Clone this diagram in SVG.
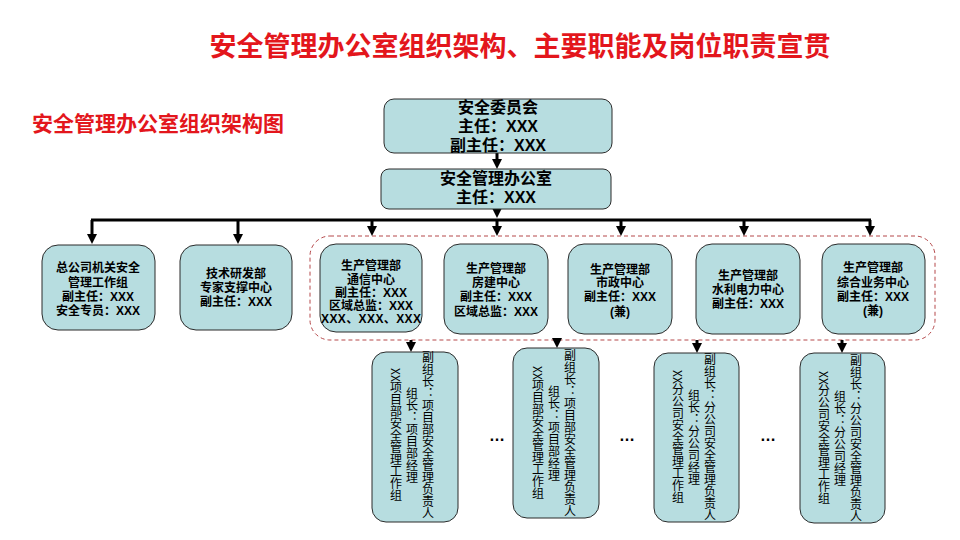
<svg xmlns="http://www.w3.org/2000/svg" width="960" height="540" viewBox="0 0 960 540">
<defs>
<style>
.box{fill:#b7dde0;stroke:#2b2b2b;stroke-width:1}
.t{font-family:"Liberation Sans","Noto Sans CJK SC",sans-serif;font-weight:bold;fill:#000;text-anchor:middle}
.t16{font-size:16px}
.t12{font-size:12px}
.v{font-family:"Noto Sans CJK SC","Liberation Sans",sans-serif;font-size:12px;fill:#000;text-anchor:middle;writing-mode:vertical-rl}
.red{font-family:"Liberation Sans","Noto Sans CJK SC",sans-serif;font-weight:bold;fill:#e3161c}
.c{stroke:#000;stroke-width:3;fill:none}
</style>
<marker id="ah" viewBox="0 0 10 10" refX="5" refY="5" markerWidth="10" markerHeight="10" markerUnits="userSpaceOnUse" orient="auto">
<path d="M0,0 L10,5 L0,10 z" fill="#000"/>
</marker>
</defs>
<rect width="960" height="540" fill="#fff"/>
<text class="red" x="520" y="56" font-size="27" text-anchor="middle">安全管理办公室组织架构、主要职能及岗位职责宣贯</text>
<text class="red" x="32" y="131" font-size="21">安全管理办公室组织架构图</text>

<rect x="310" y="236" width="625" height="104" rx="20" fill="none" stroke="#b5484a" stroke-width="1" stroke-dasharray="4,3"/>

<g id="connectors">
<line class="c" x1="497" y1="153" x2="497" y2="164" marker-end="url(#ah)"/>
<line class="c" x1="497" y1="209" x2="497" y2="213" marker-end="url(#ah)"/>
<line class="c" x1="91" y1="220" x2="871" y2="220"/>
<line class="c" x1="92" y1="220" x2="92" y2="239" marker-end="url(#ah)"/>
<line class="c" x1="238" y1="220" x2="238" y2="239" marker-end="url(#ah)"/>
<line class="c" x1="372" y1="220" x2="372" y2="231" marker-end="url(#ah)"/>
<line class="c" x1="497" y1="220" x2="497" y2="231" marker-end="url(#ah)"/>
<line class="c" x1="621" y1="220" x2="621" y2="231" marker-end="url(#ah)"/>
<line class="c" x1="744" y1="220" x2="744" y2="231" marker-end="url(#ah)"/>
<line class="c" x1="870" y1="220" x2="870" y2="231" marker-end="url(#ah)"/>
<line class="c" x1="411" y1="340" x2="411" y2="347" marker-end="url(#ah)"/>
<line class="c" x1="557" y1="340" x2="557" y2="343" marker-end="url(#ah)"/>
<line class="c" x1="697" y1="340" x2="697" y2="348" marker-end="url(#ah)"/>
<line class="c" x1="842" y1="340" x2="842" y2="348" marker-end="url(#ah)"/>
</g>

<g id="committee">
<rect class="box" x="384" y="99" width="228" height="54" rx="10"/>
<text class="t t16" x="498" y="113">安全委员会</text>
<text class="t t16" x="498" y="132">主任：XXX</text>
<text class="t t16" x="498" y="151">副主任：XXX</text>
</g>
<g id="office">
<rect class="box" x="381" y="169" width="230" height="40" rx="8"/>
<text class="t t16" x="496" y="184">安全管理办公室</text>
<text class="t t16" x="496" y="203">主任：XXX</text>
</g>

<g id="hq">
<rect class="box" x="42" y="245" width="113" height="85" rx="16"/>
<text class="t t12" x="98" y="272">总公司机关安全</text>
<text class="t t12" x="98" y="287">管理工作组</text>
<text class="t t12" x="98" y="301">副主任：XXX</text>
<text class="t t12" x="98" y="315">安全专员：XXX</text>
</g>
<g id="tech">
<rect class="box" x="180" y="245" width="112" height="85" rx="16"/>
<text class="t t12" x="236" y="278">技术研发部</text>
<text class="t t12" x="236" y="292">专家支撑中心</text>
<text class="t t12" x="236" y="306">副主任：XXX</text>
</g>
<g id="comm">
<rect class="box" x="320" y="244" width="102" height="88" rx="16"/>
<text class="t t12" x="371" y="270">生产管理部</text>
<text class="t t12" x="371" y="284">通信中心</text>
<text class="t t12" x="371" y="297">副主任：XXX</text>
<text class="t t12" x="371" y="310">区域总监：XXX</text>
<text class="t t12" x="371" y="323" textLength="100">XXX、XXX、XXX</text>
</g>
<g id="building">
<rect class="box" x="444" y="244" width="104" height="90" rx="16"/>
<text class="t t12" x="496" y="273">生产管理部</text>
<text class="t t12" x="496" y="287">房建中心</text>
<text class="t t12" x="496" y="301">副主任：XXX</text>
<text class="t t12" x="496" y="316">区域总监：XXX</text>
</g>
<g id="municipal">
<rect class="box" x="568" y="244" width="104" height="90" rx="16"/>
<text class="t t12" x="620" y="274">生产管理部</text>
<text class="t t12" x="620" y="287">市政中心</text>
<text class="t t12" x="620" y="301">副主任：XXX</text>
<text class="t t12" x="620" y="316">(兼)</text>
</g>
<g id="water">
<rect class="box" x="696" y="244" width="104" height="90" rx="16"/>
<text class="t t12" x="748" y="280">生产管理部</text>
<text class="t t12" x="748" y="294">水利电力中心</text>
<text class="t t12" x="748" y="308">副主任：XXX</text>
</g>
<g id="general">
<rect class="box" x="822" y="244" width="103" height="90" rx="16"/>
<text class="t t12" x="873" y="272">生产管理部</text>
<text class="t t12" x="873" y="287">综合业务中心</text>
<text class="t t12" x="873" y="301">副主任：XXX</text>
<text class="t t12" x="873" y="315">(兼)</text>
</g>

<g id="project1">
<rect class="box" x="372" y="352" width="86" height="170" rx="14"/>
<text class="v" x="396" y="435">XX项目部安全管理工作组</text>
<text class="v" x="412" y="435">组长：项目部经理</text>
<text class="v" x="428" y="435">副组长：项目部安全管理负责人</text>
</g>
<g id="project2">
<rect class="box" x="513" y="348" width="86" height="170" rx="14"/>
<text class="v" x="538" y="433">XX项目部安全管理工作组</text>
<text class="v" x="554" y="433">组长：项目部经理</text>
<text class="v" x="570" y="433">副组长：项目部安全管理负责人</text>
</g>
<g id="branch1">
<rect class="box" x="654" y="353" width="85" height="169" rx="14"/>
<text class="v" x="678" y="437">XX分公司安全管理工作组</text>
<text class="v" x="694" y="437">组长：分公司经理</text>
<text class="v" x="710" y="437">副组长：分公司安全管理负责人</text>
</g>
<g id="branch2">
<rect class="box" x="800" y="353" width="85" height="170" rx="14"/>
<text class="v" x="824" y="438">XX分公司安全管理工作组</text>
<text class="v" x="840" y="438">组长：分公司经理</text>
<text class="v" x="856" y="438">副组长：分公司安全管理负责人</text>
</g>

<g id="ellipsis" font-family="Liberation Sans, sans-serif" font-size="16" font-weight="bold" text-anchor="middle" fill="#000">
<text x="497" y="441">…</text>
<text x="627" y="441">…</text>
<text x="768" y="441">…</text>
</g>
</svg>
